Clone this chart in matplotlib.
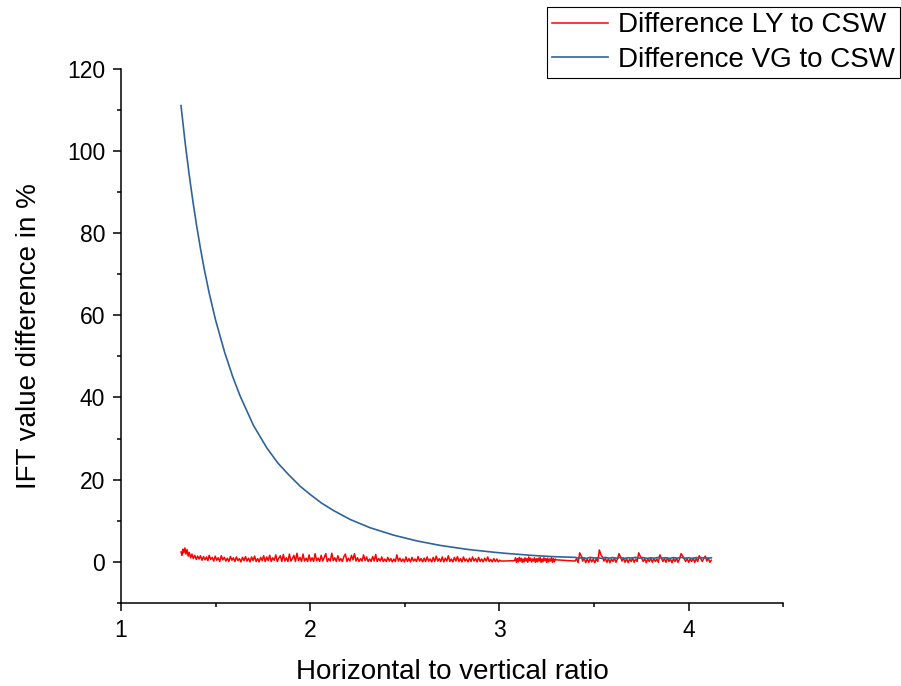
import matplotlib
matplotlib.use("Agg")
import matplotlib.pyplot as plt
from matplotlib.ticker import MultipleLocator

plt.rcParams['font.family'] = ['Liberation Sans', 'DejaVu Sans']

# Diferencia VG a CSW (curva azul)
vg_x = [1.317, 1.340, 1.360, 1.380, 1.400, 1.420, 1.440, 1.466, 1.500, 1.547,
        1.590, 1.630, 1.700, 1.771, 1.830, 1.886, 1.947, 2.000, 2.060, 2.123,
        2.212, 2.317, 2.441, 2.564, 2.688, 2.829, 2.970, 3.040, 3.111, 3.160,
        3.210, 3.266, 3.300,
        3.40, 3.42, 3.44, 3.46, 3.48, 3.50, 3.52, 3.54, 3.56, 3.58,
        3.60, 3.62, 3.64, 3.66, 3.68, 3.70, 3.72, 3.74, 3.76, 3.78,
        3.80, 3.82, 3.84, 3.86, 3.88, 3.90, 3.92, 3.94, 3.96, 3.98,
        4.00, 4.02, 4.04, 4.06, 4.08, 4.10, 4.12]
vg_y = [111.0, 101.6, 94.3, 87.7, 81.7, 76.2, 71.2, 65.4, 58.8, 51.1,
        45.1, 40.3, 33.2, 27.7, 24.0, 21.2, 18.4, 16.4, 14.3, 12.5,
        10.3, 8.3, 6.5, 5.1, 4.0, 3.05, 2.35, 2.05, 1.8, 1.62,
        1.47, 1.32, 1.25,
        1.1, 0.9, 1.05, 0.85, 1.1, 0.95, 1.0, 0.85, 1.1, 0.9,
        1.05, 0.9, 1.1, 0.85, 1.0, 0.95, 1.1, 0.9, 1.05, 0.85,
        1.0, 0.9, 1.1, 0.95, 1.0, 0.85, 1.05, 0.9, 1.1, 0.9,
        1.0, 0.85, 1.05, 0.95, 1.0, 0.9, 1.0]

# Diferencia LY a CSW (curva roja, con ruido)
ly_x = [1.317, 1.322, 1.327, 1.332, 1.338, 1.343, 1.349, 1.355, 1.361, 1.368,
        1.375, 1.382, 1.390, 1.398, 1.405, 1.413, 1.420, 1.428, 1.436, 1.444,
        1.452, 1.459, 1.466, 1.474, 1.482, 1.490, 1.498, 1.506, 1.514, 1.522,
        1.530, 1.538, 1.546, 1.554, 1.562, 1.570, 1.578, 1.586, 1.594, 1.602,
        1.610, 1.618, 1.626, 1.634, 1.642, 1.650, 1.658, 1.666, 1.674, 1.682,
        1.690, 1.698, 1.706, 1.714, 1.722, 1.730, 1.738, 1.746, 1.754, 1.762,
        1.770, 1.778, 1.786, 1.794, 1.802, 1.810, 1.818, 1.826, 1.834, 1.842,
        1.850, 1.858, 1.866, 1.874, 1.882, 1.890, 1.898, 1.906, 1.914, 1.922,
        1.930, 1.938, 1.946, 1.954, 1.962, 1.970, 1.978, 1.986, 1.994, 2.002,
        2.010, 2.018, 2.026, 2.034, 2.042, 2.050, 2.058, 2.066, 2.074, 2.082,
        2.090, 2.098, 2.106, 2.114, 2.122, 2.130, 2.138, 2.146, 2.154, 2.162,
        2.170, 2.178, 2.186, 2.194, 2.202, 2.210, 2.218, 2.226, 2.234, 2.242,
        2.250, 2.258, 2.266, 2.274, 2.282, 2.290, 2.298, 2.306, 2.314, 2.322,
        2.330, 2.338, 2.346, 2.354, 2.362, 2.370, 2.378, 2.386, 2.394, 2.402,
        2.410, 2.418, 2.426, 2.434, 2.442, 2.450, 2.458, 2.466, 2.474, 2.482,
        2.490, 2.498, 2.506, 2.514, 2.522, 2.530, 2.538, 2.546, 2.554, 2.562,
        2.570, 2.578, 2.586, 2.594, 2.602, 2.610, 2.618, 2.626, 2.634, 2.642,
        2.650, 2.658, 2.666, 2.674, 2.682, 2.690, 2.698, 2.706, 2.714, 2.722,
        2.730, 2.738, 2.746, 2.754, 2.762, 2.770, 2.778, 2.786, 2.794, 2.802,
        2.810, 2.818, 2.826, 2.834, 2.842, 2.850, 2.858, 2.866, 2.874, 2.882,
        2.890, 2.898, 2.906, 2.914, 2.922, 2.930, 2.938, 2.946, 2.954, 2.962,
        2.970, 2.978, 2.986, 2.994, 3.002, 3.010, 3.020,
        3.080, 3.085, 3.090, 3.095, 3.100, 3.105, 3.110, 3.115, 3.120, 3.125,
        3.130, 3.135, 3.140, 3.145, 3.150, 3.155, 3.160, 3.165, 3.170, 3.175,
        3.180, 3.185, 3.190, 3.195, 3.200, 3.205, 3.210, 3.215, 3.220, 3.225,
        3.230, 3.235, 3.240, 3.245, 3.250, 3.255, 3.260, 3.265, 3.270, 3.275,
        3.280, 3.285, 3.290, 3.295, 3.300,
        3.400, 3.408, 3.416, 3.424, 3.432, 3.440, 3.448, 3.456, 3.464, 3.472,
        3.480, 3.488, 3.496, 3.504, 3.512, 3.520, 3.528, 3.536, 3.544, 3.552,
        3.560, 3.568, 3.576, 3.584, 3.592, 3.600, 3.608, 3.616, 3.624, 3.632,
        3.640, 3.648, 3.656, 3.664, 3.672, 3.680, 3.688, 3.696, 3.704, 3.712,
        3.720, 3.728, 3.736, 3.744, 3.752, 3.760, 3.768, 3.776, 3.784, 3.792,
        3.800, 3.808, 3.816, 3.824, 3.832, 3.840, 3.848, 3.856, 3.864, 3.872,
        3.880, 3.888, 3.896, 3.904, 3.912, 3.920, 3.928, 3.936, 3.944, 3.952,
        3.960, 3.968, 3.976, 3.984, 3.992, 4.000, 4.008, 4.016, 4.024, 4.032,
        4.040, 4.048, 4.056, 4.064, 4.072, 4.080, 4.088, 4.096, 4.104, 4.112,
        4.120]
ly_y = [2.4, 1.6, 3.1, 2.2, 3.4, 1.9, 3.0, 1.4, 2.3, 1.0,
        1.9, 0.8, 1.6, 0.6, 1.4, 0.7, 1.5, 0.4, 1.3, 0.5,
        1.2, 0.3, 1.6, 0.6, 1.1, 0.2, 1.4, 0.4, 1.0, 0.1,
        1.5, 0.5, 1.1, 0.2, 0.9, 0.1, 1.3, 0.4, 1.0, 0.1,
        1.2, 0.3, 0.8, 0.0, 1.1, 0.3, 1.3, 0.2, 0.9, 0.0,
        1.2, 0.3, 1.4, 0.1, 0.8, 0.0, 1.1, 0.3, 1.5, 0.1,
        1.2, 0.3, 1.6, 0.1, 1.0, 0.4, 1.7, 0.1, 0.9, 1.5,
        0.1, 1.8, 0.2, 1.0, 0.1, 1.9, 0.2, 0.8, 1.6, 0.1,
        2.1, 0.3, 1.1, 0.1, 1.9, 0.2, 0.9, 0.1, 1.7, 0.2,
        1.0, 0.1, 2.0, 0.3, 0.9, 0.1, 1.6, 0.2, 1.1, 2.0,
        0.1, 0.8, 0.2, 2.1, 0.3, 1.0, 0.1, 1.5, 0.2, 0.8,
        0.1, 1.3, 1.9, 0.1, 0.9, 0.2, 1.6, 0.5, 2.0, 0.2,
        1.0, 0.1, 0.8, 0.2, 1.7, 0.3, 1.2, 0.1, 0.7, 0.1,
        1.3, 0.2, 1.8, 0.1, 0.8, 0.2, 1.2, 0.1, 0.7, 0.1,
        1.1, 0.2, 0.8, 0.0, 0.7, 0.1, 1.7, 0.2, 0.9, 0.1,
        0.7, 0.0, 1.2, 0.1, 0.8, 0.0, 1.1, 0.2, 0.7, 0.1,
        1.3, 0.2, 0.8, 0.0, 0.9, 0.1, 1.2, 0.2, 0.7, 0.0,
        1.1, 0.1, 1.4, 0.2, 0.8, 0.1, 1.2, 0.0, 0.9, 0.2,
        1.5, 0.1, 0.7, 0.0, 1.1, 0.2, 1.3, 0.1, 0.8, 0.0,
        1.2, 0.2, 0.7, 0.0, 0.9, 0.1, 1.2, 0.2, 0.8, 0.0,
        1.1, 0.1, 0.7, 0.0, 0.9, 0.2, 1.2, 0.1, 0.6, 0.0,
        0.8, 0.1, 0.7, 0.0, 0.4, 0.2, 0.2,
        0.3, 1.0, -0.1, 0.8, 0.0, 1.1, 0.2, 0.9, -0.1, 0.7,
        0.0, 1.0, 0.2, 0.8, -0.1, 1.2, 0.3, 0.9, 0.0, 0.7,
        0.2, 1.0, -0.1, 0.8, 0.0, 0.9, 0.2, 1.1, -0.1, 0.7,
        0.0, 1.0, 0.3, 0.8, -0.1, 0.9, 0.0, 0.7, 0.2, 1.0,
        -0.1, 0.8, 0.0, 0.7, 0.5,
        0.2, 0.8, -0.2, 2.2, 1.5, 0.2, 0.9, -0.2, 0.7, -0.1,
        0.8, 0.0, 0.7, -0.2, 0.8, 0.1, 2.9, 1.8, 1.2, 0.2,
        0.9, -0.1, 0.8, -0.2, 0.7, 0.1, 0.9, -0.1, 0.7, 2.0,
        1.2, 0.2, 0.9, -0.1, 0.8, -0.2, 0.7, 0.1, 0.9, -0.1,
        0.7, 0.1, 2.2, 1.4, 0.9, 0.1, 0.8, -0.2, 0.7, 0.1,
        0.9, -0.1, 0.8, 0.1, 0.7, -0.1, 1.7, 0.9, 0.1, 0.8,
        -0.1, 0.9, 0.1, 0.7, -0.2, 0.8, 0.1, 0.9, -0.1, 0.7,
        2.0, 1.5, 0.8, 0.1, 0.8, -0.1, 0.7, 0.1, 0.9, -0.1,
        0.8, 0.1, 1.5, 0.8, 0.1, 0.8, 1.4, 0.2, 0.9, -0.1,
        0.4]

fig = plt.figure(figsize=(9.01, 6.86), dpi=100)
ax = fig.add_axes([0.1343, 0.1210, 0.7350, 0.7790])

ax.plot(ly_x, ly_y, color="#ff0000", lw=1.1, label="Difference LY to CSW")
ax.plot(vg_x, vg_y, color="#2f639c", lw=1.2, label="Difference VG to CSW")

ax.set_xlim(1, 4.5)
ax.set_ylim(-10, 120)
ax.xaxis.set_major_locator(MultipleLocator(1))
ax.xaxis.set_minor_locator(MultipleLocator(0.5))
ax.yaxis.set_major_locator(MultipleLocator(20))
ax.yaxis.set_minor_locator(MultipleLocator(10))

for s in ["top", "right"]:
    ax.spines[s].set_visible(False)
for s in ["left", "bottom"]:
    ax.spines[s].set_linewidth(1.1)

ax.tick_params(which="major", direction="out", length=5.5, width=1.1, labelsize=16.5, pad=6)
ax.tick_params(which="minor", direction="out", length=3, width=1.1)

ax.set_xlabel("Horizontal to vertical ratio", fontsize=20, labelpad=12)
ax.set_ylabel("IFT value difference in %", fontsize=20, labelpad=18)

leg = fig.legend(loc="upper right", bbox_to_anchor=(0.999, 0.99), fontsize=20,
                 frameon=True, fancybox=False, edgecolor="black", framealpha=1,
                 handlelength=2.0, handletextpad=0.35, labelspacing=0.3,
                 borderpad=0.2, borderaxespad=0)
leg.get_frame().set_linewidth(0.8)

fig.savefig("out.png", dpi=100)
